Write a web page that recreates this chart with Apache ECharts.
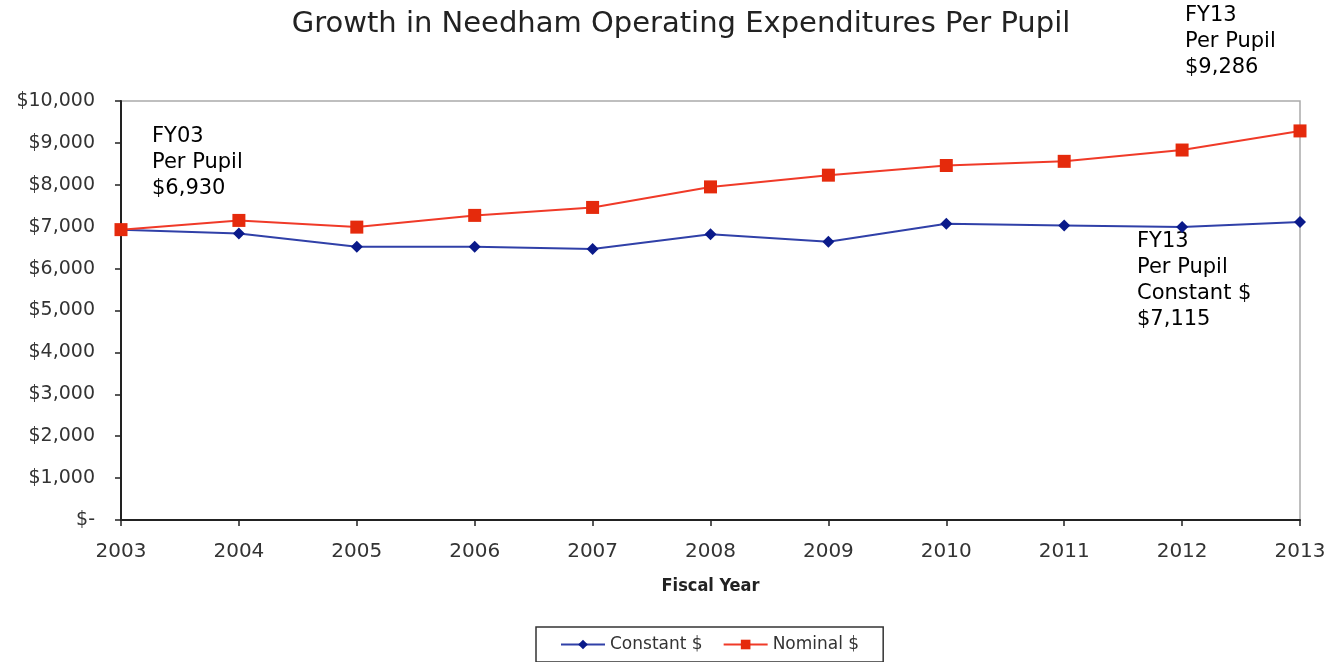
<!DOCTYPE html>
<html><head><meta charset="utf-8">
<script src="https://cdn.jsdelivr.net/npm/echarts@6/dist/echarts.min.js"></script>
<style>html,body{margin:0;padding:0;background:#fff}#c{width:1342px;height:662px}</style>
</head><body><div id="c"></div>
<script>
const years = ['2003','2004','2005','2006','2007','2008','2009','2010','2011','2012','2013'];
const constantVals = [6930, 6840, 6520, 6520, 6470, 6820, 6640, 7070, 7030, 6990, 7115];
const nominalVals = [6930, 7150, 6990, 7270, 7460, 7950, 8230, 8460, 8560, 8830, 9286];
const seriesNames = ['Constant $', 'Nominal $'];
const titleText = 'Growth in Needham Operating Expenditures Per Pupil';
const xName = 'Fiscal Year';
const noteFY03 = 'FY03\nPer Pupil\n$6,930';
const noteFY13Nom = 'FY13\nPer Pupil\n$9,286';
const noteFY13Con = 'FY13\nPer Pupil\nConstant $\n$7,115';

const chart = echarts.init(document.getElementById('c'));
const noteStyle = {fontFamily:'DejaVu Sans', fontSize:21, lineHeight:26, fill:'#000'};
chart.setOption({
  animation:false,
  title:{text:titleText, left:676, textAlign:'center', top:5,
    textStyle:{fontFamily:'DejaVu Sans', fontWeight:'normal', fontSize:29, color:'#222'}},
  grid:{left:121, right:42, top:101, bottom:142, show:true, borderColor:'#aaa', borderWidth:1.5},
  legend:{bottom:0, left:536, itemGap:20, padding:[9,24,9,24], borderColor:'#333', borderWidth:1.5, borderRadius:0,
    itemWidth:44, itemHeight:12,
    textStyle:{fontFamily:'DejaVu Sans', fontSize:17, color:'#333'},
    data:seriesNames},
  xAxis:{type:'category', data:years, boundaryGap:false, name:xName, nameLocation:'middle', nameGap:57,
    nameTextStyle:{fontFamily:'DejaVu Sans Condensed, DejaVu Sans', fontSize:18, color:'#222', fontWeight:'bold'},
    axisLine:{lineStyle:{color:'#222', width:2}},
    axisTick:{alignWithLabel:true, length:6, lineStyle:{color:'#222', width:1.5}},
    axisLabel:{margin:22, fontFamily:'DejaVu Sans', fontSize:20, color:'#333'}},
  yAxis:{type:'value', min:0, max:10000, interval:1000,
    splitLine:{show:false},
    axisLine:{show:true, lineStyle:{color:'#222', width:2}},
    axisTick:{show:true, length:6, lineStyle:{color:'#222', width:1.5}},
    axisLabel:{margin:26, fontFamily:'DejaVu Sans', fontSize:19, color:'#333',
      formatter:v=> v===0 ? '$-' : '$'+v.toLocaleString('en-US')}},
  series:[
    {name:seriesNames[0], type:'line', data:constantVals, symbol:'diamond', symbolSize:12,
      itemStyle:{color:'#0a1a8a'}, lineStyle:{color:'#3040a8', width:2}},
    {name:seriesNames[1], type:'line', data:nominalVals, symbol:'rect', symbolSize:13,
      itemStyle:{color:'#e52a0c'}, lineStyle:{color:'#f03a28', width:2}}
  ],
  graphic:[
    {type:'text', left:152, top:124, style:Object.assign({text:noteFY03}, noteStyle)},
    {type:'text', left:1185, top:3, style:Object.assign({text:noteFY13Nom}, noteStyle)},
    {type:'text', left:1137, top:229, style:Object.assign({text:noteFY13Con}, noteStyle)}
  ]
});
</script></body></html>
